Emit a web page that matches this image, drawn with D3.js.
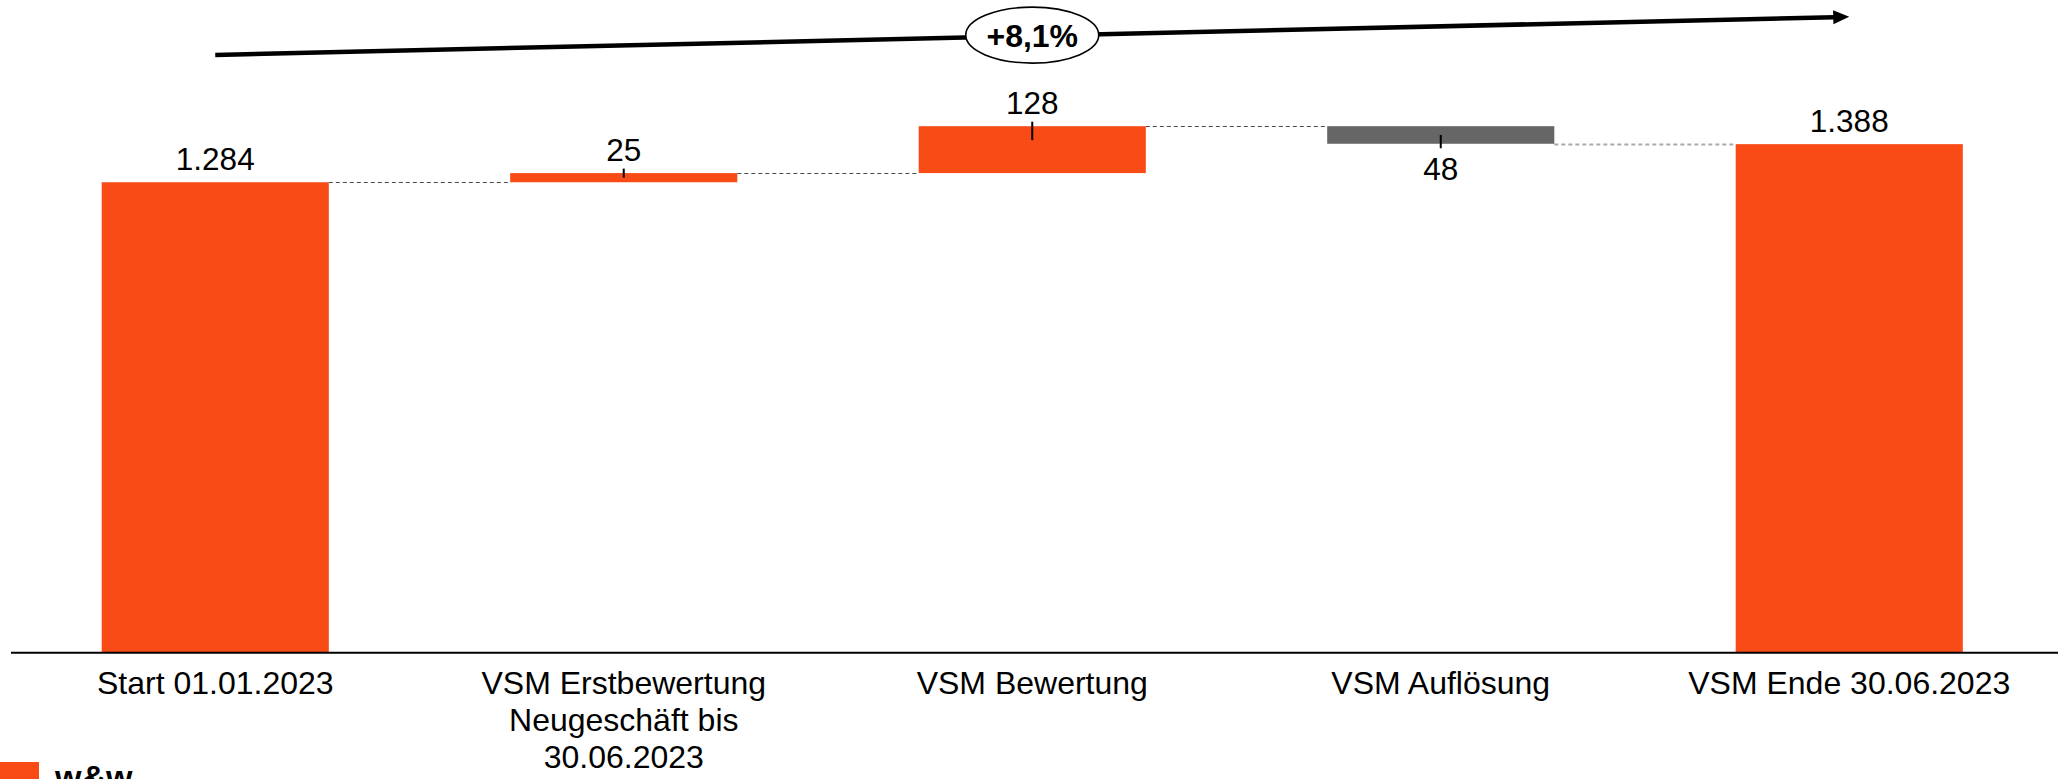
<!DOCTYPE html>
<html>
<head>
<meta charset="utf-8">
<script src="https://cdn.jsdelivr.net/npm/d3@7"></script>
<style>
  html, body { margin: 0; padding: 0; background: #ffffff; }
  svg { display: block; }
  text { font-family: "Liberation Sans", Arial, sans-serif; fill: #000; }
</style>
</head>
<body>
<svg id="chart" width="2058" height="779"></svg>
<script>
// Waterfall: VSM development in the first half of 2023
const categories = [
  "Start 01.01.2023",
  "VSM Erstbewertung\nNeugeschäft bis\n30.06.2023",
  "VSM Bewertung",
  "VSM Auflösung",
  "VSM Ende 30.06.2023"
];
const values = [1284, 25, 128, -48, 1388];
const kinds  = ["total", "delta", "delta", "delta", "total"];

const ORANGE = "#F94B16";
const GREY   = "#666666";

const W = 2058, H = 779;
const baseY = 652.7;

const svg = d3.select("#chart");

// German number formatting: 1.284 / 8,1%
const de = d3.formatLocale({ decimal: ",", thousands: ".", grouping: [3], currency: ["", " €"] });
const fmtNum = de.format(",d");
const fmtPct = de.format("+.1%");

// Build the floating segments
let running = 0;
const bars = values.map((v, i) => {
  let lo, hi, start, end;
  if (kinds[i] === "total") {
    start = 0; end = v; running = v;
  } else {
    start = running; end = running + v; running = end;
  }
  lo = Math.min(start, end); hi = Math.max(start, end);
  return { i, cat: categories[i], v, kind: kinds[i], start, end, lo, hi };
});

const x = d3.scaleBand()
  .domain(categories)
  .range([11, 2053.5])
  .paddingInner(0.444)
  .paddingOuter(0.222);

const y = d3.scaleLinear()
  .domain([0, 1500])
  .range([baseY, baseY - 1500 * 0.3664]);

const bw = x.bandwidth();

// Dashed connectors between consecutive bars
const conn = svg.append("g");
bars.slice(0, -1).forEach((b, k) => {
  const nb = bars[k + 1];
  const level = b.end;
  const last = k === bars.length - 2;
  conn.append("line")
    .attr("x1", x(b.cat) + bw)
    .attr("x2", x(nb.cat))
    .attr("y1", Math.round(y(level)) + 0.5)
    .attr("y2", Math.round(y(level)) + 0.5)
    .attr("stroke", last ? "#a9a9a9" : "#4a4a4a")
    .attr("stroke-width", last ? 2 : 1.2)
    .attr("stroke-dasharray", "4,3");
});

// Bars
svg.append("g").selectAll("rect")
  .data(bars)
  .join("rect")
  .attr("x", d => x(d.cat))
  .attr("width", bw)
  .attr("y", d => y(d.hi))
  .attr("height", d => y(d.lo) - y(d.hi))
  .attr("fill", d => d.v < 0 ? GREY : ORANGE);

// Small markers on the change bars
svg.append("g").selectAll("line")
  .data(bars.filter(d => d.kind === "delta"))
  .join("line")
  .attr("x1", d => x(d.cat) + bw / 2)
  .attr("x2", d => x(d.cat) + bw / 2)
  .attr("y1", d => {
    const h = y(d.lo) - y(d.hi);
    return d.v >= 0 ? y(d.hi) - 4.5 : y(d.lo) - Math.min(h / 2, 14);
  })
  .attr("y2", d => {
    const h = y(d.lo) - y(d.hi);
    return d.v >= 0 ? y(d.hi) + Math.min(h / 2, 14) : y(d.lo) + 4.5;
  })
  .attr("stroke", "#000")
  .attr("stroke-width", 2);

// Value labels
svg.append("g").selectAll("text")
  .data(bars)
  .join("text")
  .attr("x", d => x(d.cat) + bw / 2)
  .attr("y", d => d.v >= 0 ? y(d.hi) - 12.5 : y(d.lo) + 36)
  .attr("text-anchor", "middle")
  .attr("font-size", 31.5)
  .text(d => fmtNum(Math.abs(d.v)));

// Category axis
svg.append("line")
  .attr("x1", 11).attr("x2", W)
  .attr("y1", baseY).attr("y2", baseY)
  .attr("stroke", "#000").attr("stroke-width", 2);

const cats = svg.append("g").selectAll("text")
  .data(categories)
  .join("text")
  .attr("x", d => x(d) + bw / 2)
  .attr("y", 694)
  .attr("text-anchor", "middle")
  .attr("font-size", 32);
cats.each(function (d) {
  const t = d3.select(this);
  d.split("\n").forEach((line, k) => {
    t.append("tspan")
      .attr("x", x(d) + bw / 2)
      .attr("dy", k === 0 ? 0 : 37)
      .text(line);
  });
});

// Overall growth arrow from first to last total
const first = bars[0], lastBar = bars[bars.length - 1];
const ax1 = x(first.cat) + bw / 2, ay1 = y(first.end) - 127.3;
const ax2 = x(lastBar.cat) + bw / 2, ay2 = y(lastBar.end) - 127.3;
const ang = Math.atan2(ay2 - ay1, ax2 - ax1);
const headL = 16, headW = 14;
const bx = ax2 - headL * Math.cos(ang), by = ay2 - headL * Math.sin(ang);
const arrow = svg.append("g");
arrow.append("line")
  .attr("x1", ax1).attr("y1", ay1)
  .attr("x2", bx + Math.cos(ang)).attr("y2", by + Math.sin(ang))
  .attr("stroke", "#000").attr("stroke-width", 4.5);
const px = -Math.sin(ang), py = Math.cos(ang);
arrow.append("path")
  .attr("d", `M${ax2},${ay2}L${bx + px * headW / 2},${by + py * headW / 2}L${bx - px * headW / 2},${by - py * headW / 2}Z`)
  .attr("fill", "#000");

const mx = (ax1 + ax2) / 2, my = (ay1 + ay2) / 2 - 0.8;
arrow.append("ellipse")
  .attr("cx", mx).attr("cy", my)
  .attr("rx", 66.5).attr("ry", 28)
  .attr("fill", "#fff")
  .attr("stroke", "#000").attr("stroke-width", 1.6);
arrow.append("text")
  .attr("x", mx).attr("y", my + 11.5)
  .attr("text-anchor", "middle")
  .attr("font-size", 32)
  .attr("font-weight", "bold")
  .text(fmtPct(lastBar.end / first.end - 1));

// Corner brand mark
svg.append("rect")
  .attr("x", 0).attr("y", 762)
  .attr("width", 39).attr("height", 20)
  .attr("fill", ORANGE);
svg.append("text")
  .attr("x", 55).attr("y", 789)
  .attr("font-size", 34)
  .attr("font-weight", "bold")
  .text("w&w");
</script>
</body>
</html>
